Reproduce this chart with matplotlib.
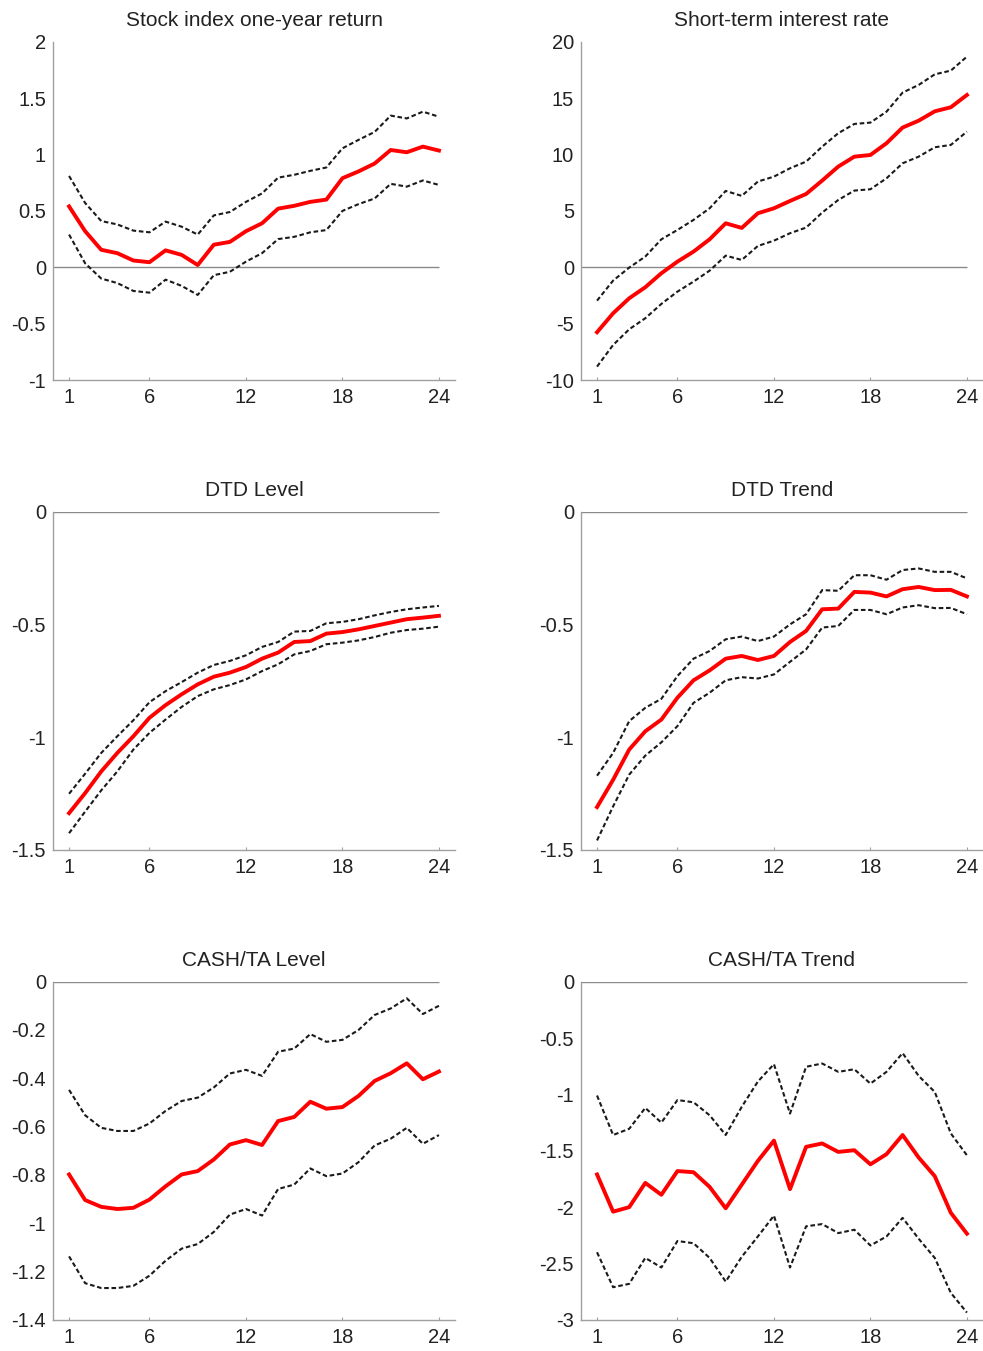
import numpy as np
import matplotlib.pyplot as plt

plt.rcParams['font.family'] = ['Liberation Sans', 'DejaVu Sans']

horizon = np.arange(1, 25)

# Stock index one-year return
stock_mid = [0.54, 0.32, 0.155, 0.125, 0.06, 0.045, 0.15, 0.11, 0.02, 0.20, 0.225, 0.32,
             0.39, 0.52, 0.545, 0.58, 0.60, 0.79, 0.85, 0.92, 1.04, 1.02, 1.07, 1.035]
stock_hi = [0.81, 0.57, 0.41, 0.38, 0.325, 0.31, 0.405, 0.36, 0.29, 0.46, 0.49, 0.58,
            0.655, 0.795, 0.82, 0.855, 0.885, 1.055, 1.13, 1.20, 1.345, 1.32, 1.38, 1.335]
stock_lo = [0.29, 0.035, -0.10, -0.14, -0.21, -0.225, -0.11, -0.165, -0.245, -0.07, -0.04, 0.05,
            0.125, 0.25, 0.27, 0.31, 0.33, 0.50, 0.56, 0.61, 0.74, 0.715, 0.77, 0.73]

# Short-term interest rate
rate_mid = [-5.76, -4.08, -2.75, -1.77, -0.53, 0.5, 1.39, 2.48, 3.9, 3.49, 4.79, 5.23,
            5.88, 6.5, 7.69, 8.93, 9.81, 9.96, 11.0, 12.39, 13.0, 13.83, 14.19, 15.28]
rate_hi = [-2.96, -1.18, -0.03, 0.95, 2.48, 3.31, 4.2, 5.23, 6.77, 6.33, 7.6, 8.04,
           8.78, 9.37, 10.7, 11.89, 12.71, 12.83, 13.8, 15.49, 16.17, 17.11, 17.44, 18.68]
rate_lo = [-8.81, -6.89, -5.5, -4.52, -3.25, -2.16, -1.27, -0.3, 1.03, 0.65, 1.89, 2.36,
           3.02, 3.52, 4.85, 5.97, 6.8, 6.92, 7.89, 9.22, 9.81, 10.64, 10.85, 12.03]

# DTD level
dtdl_mid = [-1.337, -1.248, -1.152, -1.07, -0.996, -0.914, -0.858, -0.81, -0.766, -0.732, -0.714, -0.689,
            -0.652, -0.625, -0.578, -0.574, -0.541, -0.534, -0.522, -0.507, -0.492, -0.477, -0.47, -0.462]
dtdl_hi = [-1.251, -1.162, -1.07, -0.996, -0.925, -0.845, -0.796, -0.756, -0.714, -0.68, -0.662, -0.637,
           -0.60, -0.578, -0.532, -0.529, -0.495, -0.489, -0.477, -0.46, -0.445, -0.433, -0.425, -0.418]
dtdl_lo = [-1.426, -1.33, -1.236, -1.152, -1.055, -0.981, -0.922, -0.866, -0.818, -0.788, -0.769, -0.744,
           -0.707, -0.677, -0.633, -0.618, -0.588, -0.581, -0.571, -0.556, -0.537, -0.525, -0.519, -0.51]

# DTD trend
dtdt_mid = [-1.31, -1.189, -1.055, -0.974, -0.922, -0.825, -0.748, -0.704, -0.652, -0.64, -0.658, -0.64,
            -0.578, -0.529, -0.433, -0.43, -0.356, -0.359, -0.376, -0.344, -0.334, -0.348, -0.347, -0.376]
dtdt_hi = [-1.171, -1.07, -0.929, -0.87, -0.83, -0.729, -0.652, -0.618, -0.566, -0.554, -0.574, -0.554,
           -0.50, -0.455, -0.348, -0.351, -0.282, -0.282, -0.302, -0.259, -0.252, -0.267, -0.267, -0.296]
dtdt_lo = [-1.458, -1.307, -1.166, -1.082, -1.023, -0.951, -0.848, -0.803, -0.748, -0.734, -0.74, -0.722,
           -0.666, -0.611, -0.514, -0.507, -0.436, -0.436, -0.455, -0.425, -0.415, -0.428, -0.427, -0.455]

# CASH/TA level
cashl_mid = [-0.798, -0.904, -0.932, -0.941, -0.936, -0.902, -0.847, -0.798, -0.784, -0.736, -0.674, -0.656,
             -0.676, -0.577, -0.56, -0.497, -0.526, -0.519, -0.473, -0.411, -0.379, -0.338, -0.404, -0.372]
cashl_hi = [-0.448, -0.553, -0.605, -0.618, -0.618, -0.587, -0.535, -0.494, -0.48, -0.438, -0.38, -0.365,
            -0.39, -0.29, -0.277, -0.217, -0.249, -0.241, -0.20, -0.138, -0.111, -0.069, -0.134, -0.10]
cashl_lo = [-1.137, -1.248, -1.268, -1.268, -1.259, -1.217, -1.155, -1.105, -1.086, -1.036, -0.964, -0.941,
            -0.968, -0.858, -0.84, -0.773, -0.805, -0.794, -0.747, -0.678, -0.65, -0.605, -0.671, -0.635]

# CASH/TA trend
casht_mid = [-1.71, -2.04, -2.0, -1.785, -1.89, -1.68, -1.69, -1.82, -2.01, -1.8, -1.59, -1.41,
             -1.84, -1.465, -1.435, -1.51, -1.495, -1.62, -1.53, -1.36, -1.56, -1.725, -2.05, -2.235]
casht_hi = [-1.01, -1.36, -1.305, -1.12, -1.25, -1.05, -1.07, -1.185, -1.36, -1.11, -0.886, -0.732,
            -1.17, -0.755, -0.726, -0.80, -0.777, -0.904, -0.80, -0.634, -0.836, -0.978, -1.346, -1.54]
casht_lo = [-2.4, -2.71, -2.68, -2.45, -2.535, -2.3, -2.32, -2.45, -2.66, -2.44, -2.26, -2.075,
            -2.535, -2.17, -2.15, -2.23, -2.2, -2.34, -2.26, -2.095, -2.28, -2.45, -2.76, -2.935]

titles = ['Stock index one-year return', 'Short-term interest rate',
          'DTD Level', 'DTD Trend', 'CASH/TA Level', 'CASH/TA Trend']
series = [(stock_mid, stock_hi, stock_lo), (rate_mid, rate_hi, rate_lo),
          (dtdl_mid, dtdl_hi, dtdl_lo), (dtdt_mid, dtdt_hi, dtdt_lo),
          (cashl_mid, cashl_hi, cashl_lo), (casht_mid, casht_hi, casht_lo)]
ylims = [(-1, 2), (-10, 20), (-1.5, 0), (-1.5, 0), (-1.4, 0), (-3, 0)]
yticks = [[-1, -0.5, 0, 0.5, 1, 1.5, 2],
          [-10, -5, 0, 5, 10, 15, 20],
          [-1.5, -1, -0.5, 0],
          [-1.5, -1, -0.5, 0],
          [-1.4, -1.2, -1, -0.8, -0.6, -0.4, -0.2, 0],
          [-3, -2.5, -2, -1.5, -1, -0.5, 0]]
xticks = [1, 6, 12, 18, 24]

fig = plt.figure(figsize=(9.83, 13.51), dpi=100)

lefts = [0.0539, 0.591]
bottoms = [0.7187, 0.3709, 0.0230]
w, h = 0.409, 0.2504

for i, (title, (mid, hi, lo)) in enumerate(zip(titles, series)):
    ax = fig.add_axes([lefts[i % 2], bottoms[i // 2], w, h])
    ax.hlines(0, 0, 24, color='#8a8a8a', lw=1.0, zorder=1)
    ax.plot(horizon, hi, color='#1a1a1a', lw=1.5, dashes=(2.2, 1.3), zorder=2)
    ax.plot(horizon, lo, color='#1a1a1a', lw=1.5, dashes=(2.2, 1.3), zorder=2)
    ax.plot(horizon, mid, color='#ff0000', lw=2.8, zorder=3)

    ax.set_xlim(0, 25)
    ax.set_ylim(*ylims[i])
    ax.set_xticks(xticks)
    ax.set_yticks(yticks[i])
    ax.set_yticklabels(['%g' % t for t in yticks[i]])
    ax.set_title(title, fontsize=15, pad=11, color='#222222')

    for s in ['top', 'right']:
        ax.spines[s].set_visible(False)
    for s in ['left', 'bottom']:
        ax.spines[s].set_color('#a0a0a0')
        ax.spines[s].set_linewidth(1.0)
    ax.tick_params(axis='x', direction='in', length=2, color='#a0a0a0',
                   labelsize=14.5, labelcolor='#222222', pad=6)
    ax.tick_params(axis='y', length=0, labelsize=14.5, labelcolor='#222222', pad=5)

plt.savefig('out.png', dpi=100)
